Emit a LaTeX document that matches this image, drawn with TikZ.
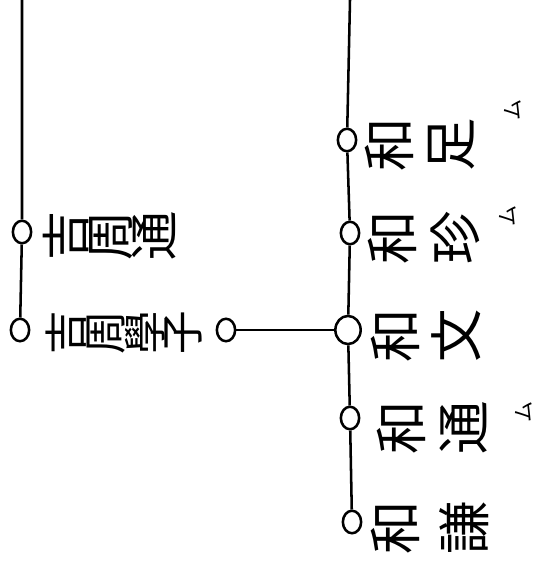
\documentclass[tikz,border=0pt]{standalone}
\usepackage{fontspec}
\usepackage{graphicx}
\newfontfamily\jpfont{Noto Sans CJK JP}
\newcommand{\rot}[1]{\rotatebox{90}{#1}}
\usepackage{tikz}
\usetikzlibrary{shapes.geometric}

\begin{document}
\begin{tikzpicture}[x=0.025cm,y=-0.025cm,
  line width=1.8pt,
  ring/.style={draw,ellipse,line width=1.8pt,minimum width=13pt,minimum height=16pt,inner sep=0pt,fill=white},
  jname/.style={font=\jpfont\fontsize{38}{38}\selectfont,inner sep=0pt},
  smallmark/.style={font=\jpfont\fontsize{15}{15}\selectfont,inner sep=0pt}]
\useasboundingbox (0,0) rectangle (542,584);

% left line
\coordinate (topL) at (22,0);
\node[ring] (p1) at (22,232) {};
\node[ring] (p2) at (20,330) {};
\node[ring] (p2e) at (226,330) {};
\draw (topL) -- (p1) -- (p2);

\node[jname,font=\jpfont\fontsize{35}{35}\selectfont] (t1) at (110,236) {\rot{吉}\rot{周}\rot{通}};
\node[jname,font=\jpfont\fontsize{31}{31}\selectfont] (t2) at (124,333) {\rot{吉}\rot{周}\rot{學}\rot{子}};

% right line
\coordinate (topR) at (350,0);
\node[ring] (c1) at (347,140) {};
\node[ring] (c2) at (350,233) {};
\node[ring,minimum width=18pt,minimum height=20pt] (c3) at (348,330) {};
\node[ring] (c4) at (350,418) {};
\node[ring] (c5) at (352,522) {};
\draw (topR) -- (c1) -- (c2) -- (c3) -- (c4) -- (c5);
\draw (p2e) -- (c3);

\node[jname] (r1) at (420,145) {\rot{和}\hspace{10pt}\rot{足}};
\node[jname] (r2) at (424,238) {\rot{和}\hspace{10pt}\rot{珍}};
\node[jname] (r3) at (426,336) {\rot{和}\hspace{8pt}\rot{文}};
\node[jname] (r4) at (432,428) {\rot{和}\hspace{10pt}\rot{通}};
\node[jname] (r5) at (430,528) {\rot{和}\hspace{14pt}\rot{謙}};

\node[smallmark] (m1) at (513,110) {\rot{ム}};
\node[smallmark] (m2) at (508,216) {\rot{ム}};
\node[smallmark] (m4) at (524,412) {\rot{ム}};
\end{tikzpicture}
\end{document}
